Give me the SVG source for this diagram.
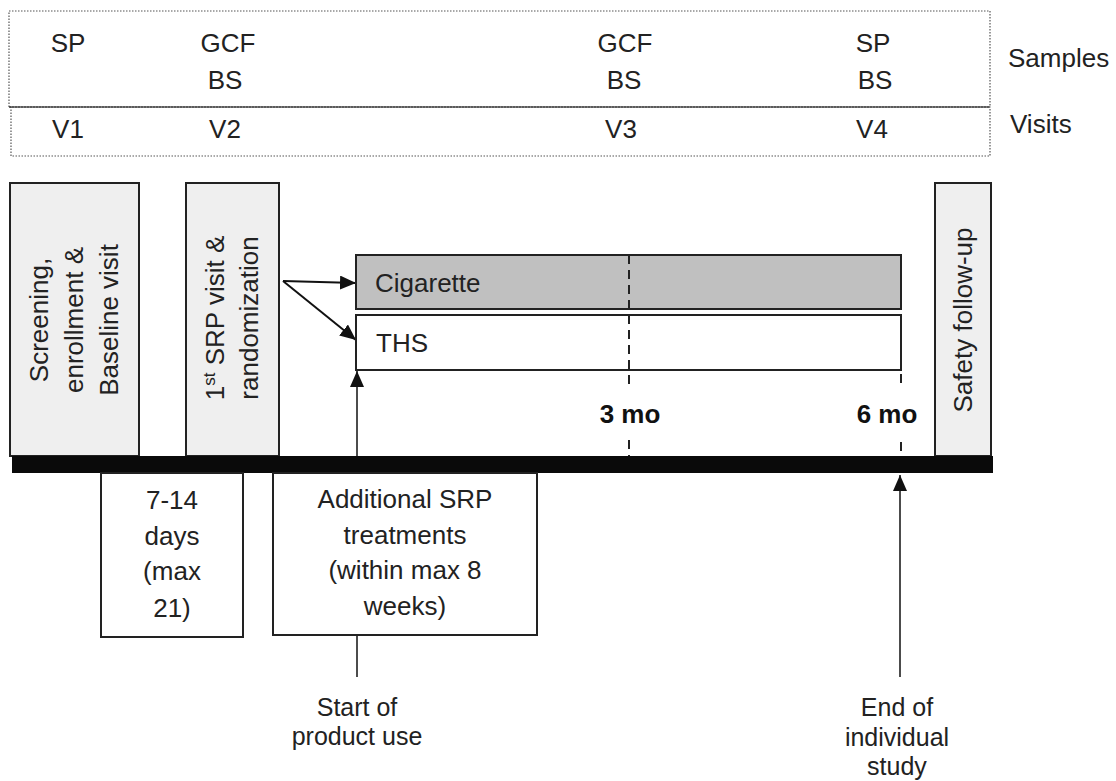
<svg xmlns="http://www.w3.org/2000/svg" width="1116" height="781" viewBox="0 0 1116 781">
<defs>
<style>
text{font-family:"Liberation Sans",Arial,sans-serif;font-size:26px;fill:#222}
.mid{text-anchor:middle}
.bold{font-weight:bold;fill:#111}
.small{font-size:25px}
.dot{fill:none;stroke:#555;stroke-width:1.2;stroke-dasharray:1.5 1.5}
.light{fill:#efefef;stroke:#222;stroke-width:2}
.cig{fill:#c0c0c0;stroke:#222;stroke-width:2}
.white{fill:#fff;stroke:#222;stroke-width:2}
.dash{stroke:#222;stroke-width:2;stroke-dasharray:9 6;fill:none}
.conn{stroke:#111;fill:none}
</style>
<marker id="ah" markerUnits="userSpaceOnUse" markerWidth="16" markerHeight="14" viewBox="0 0 16 14" refX="16" refY="7" orient="auto">
<path d="M0,0 L16,7 L0,14 z" fill="#111"/>
</marker>
</defs>
<rect width="1116" height="781" fill="#fff"/>

<g id="connectors">
<line class="conn" stroke-width="2" x1="283" y1="281" x2="356" y2="283" marker-end="url(#ah)"/>
<line class="conn" stroke-width="2" x1="283" y1="281" x2="356" y2="340" marker-end="url(#ah)"/>
<line class="conn" stroke-width="1.5" x1="357" y1="677" x2="357" y2="371" marker-end="url(#ah)"/>
<line class="conn" stroke-width="1.5" x1="900" y1="677" x2="900" y2="475" marker-end="url(#ah)"/>
</g>

<g id="header">
<rect class="dot" x="9" y="11" width="981" height="96"/>
<rect class="dot" x="11" y="107" width="979" height="49"/>
<line x1="9" y1="107" x2="990" y2="107" stroke="#333" stroke-width="1.5" stroke-dasharray="2 1"/>
<text class="mid" x="68" y="52">SP</text>
<text class="mid" x="228" y="52">GCF</text>
<text class="mid" x="625" y="52">GCF</text>
<text class="mid" x="873" y="52">SP</text>
<text class="mid" x="225" y="89">BS</text>
<text class="mid" x="624" y="89">BS</text>
<text class="mid" x="875" y="89">BS</text>
<text class="mid" x="68" y="138">V1</text>
<text class="mid" x="225" y="138">V2</text>
<text class="mid" x="621" y="138">V3</text>
<text class="mid" x="872" y="138">V4</text>
<text x="1008" y="67">Samples</text>
<text x="1010" y="133">Visits</text>
</g>

<g id="screening">
<rect class="light" x="10" y="183" width="129" height="273"/>
<text class="mid" transform="translate(48,320) rotate(-90)">Screening,</text>
<text class="mid" transform="translate(83,320) rotate(-90)">enrollment &amp;</text>
<text class="mid" transform="translate(118,320) rotate(-90)">Baseline visit</text>
</g>

<g id="srp">
<rect class="light" x="186" y="183" width="93" height="273"/>
<text class="mid" transform="translate(224,318) rotate(-90)">1<tspan font-size="17" dy="-9">st</tspan><tspan dy="9"> SRP visit &amp;</tspan></text>
<text class="mid" transform="translate(258,318) rotate(-90)">randomization</text>
</g>

<g id="cigarette">
<rect class="cig" x="356" y="255" width="545" height="54"/>
<text x="375" y="292">Cigarette</text>
</g>

<g id="ths">
<rect class="white" x="356" y="315" width="545" height="55"/>
<text x="376" y="352">THS</text>
</g>

<g id="guides">
<line class="dash" x1="629" y1="255" x2="629" y2="385"/>
<line class="dash" x1="629" y1="440" x2="629" y2="456"/>
<line class="dash" x1="901" y1="374" x2="901" y2="384"/>
<line class="dash" x1="901" y1="442" x2="901" y2="456"/>
<text class="mid bold" x="630" y="423">3 mo</text>
<text class="mid bold" x="887" y="423">6 mo</text>
</g>

<g id="safety">
<rect class="light" x="935" y="183" width="56" height="273"/>
<text class="mid" transform="translate(972,320) rotate(-90)">Safety follow-up</text>
</g>

<g id="timeline">
<rect x="12" y="456" width="981" height="17" fill="#0a0a0a"/>
</g>

<g id="days">
<rect class="white" x="101" y="473" width="142" height="164"/>
<text class="mid" x="172" y="509">7-14</text>
<text class="mid" x="172" y="545">days</text>
<text class="mid" x="172" y="580">(max</text>
<text class="mid" x="172" y="617">21)</text>
</g>

<g id="additional">
<rect class="white" x="273" y="473" width="264" height="162"/>
<text class="mid" x="405" y="508">Additional SRP</text>
<text class="mid" x="405" y="544">treatments</text>
<text class="mid" x="405" y="579">(within max 8</text>
<text class="mid" x="405" y="615">weeks)</text>
</g>

<g id="start">
<text class="mid small" x="357" y="716">Start of</text>
<text class="mid small" x="357" y="745">product use</text>
</g>

<g id="end">
<text class="mid small" x="897" y="716">End of</text>
<text class="mid small" x="897" y="746">individual</text>
<text class="mid small" x="897" y="775">study</text>
</g>
</svg>
